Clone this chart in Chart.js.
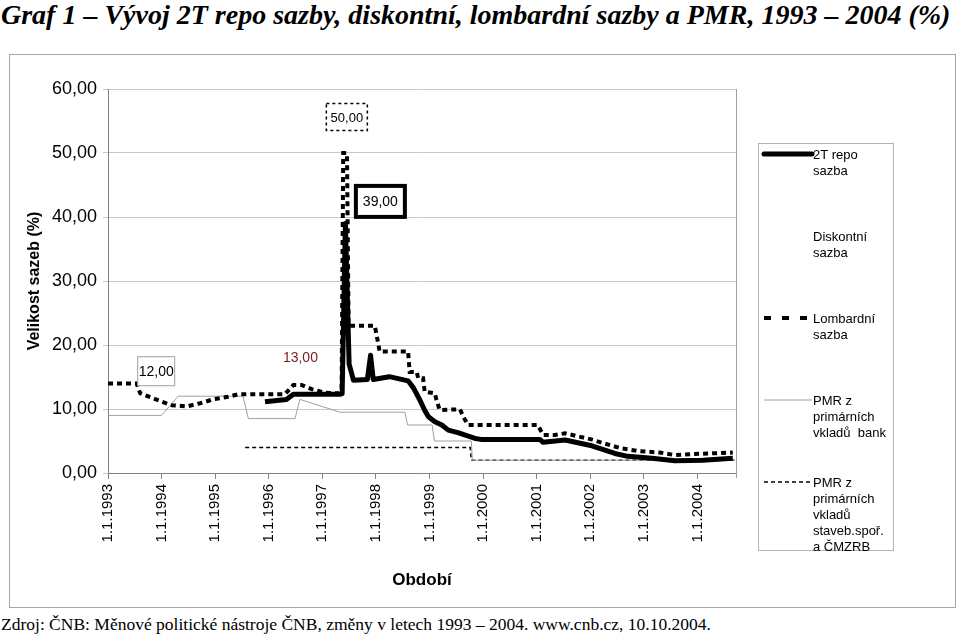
<!DOCTYPE html>
<html>
<head>
<meta charset="utf-8">
<script src="https://cdn.jsdelivr.net/npm/chart.js@4.4.0/dist/chart.umd.min.js"></script>
<style>
  body { margin: 0; width: 960px; height: 635px; position: relative; background: #fff; overflow: hidden; }
  #title { position: absolute; left: 1px; top: 1px; font: bold italic 28px "Liberation Serif"; line-height: 28px; white-space: nowrap; }
  #box { position: absolute; left: 9px; top: 54px; width: 945px; height: 552px; border: 1px solid #a6a6a6; }
  #source { position: absolute; left: 1px; top: 615px; font: 17.5px "Liberation Serif"; line-height: 18px; white-space: nowrap; }
</style>
</head>
<body>
<div id="title">Graf 1 – Vývoj 2T repo sazby, diskontní, lombardní sazby a PMR, 1993 – 2004 (%)</div>
<div id="box"><canvas id="graph" width="945" height="552" style="width:945px;height:552px"></canvas></div>
<div id="source">Zdroj: ČNB: Měnové politické nástroje ČNB, změny v letech 1993 – 2004. www.cnb.cz, 10.10.2004.</div>
<script>
// values (x = year as decimal)
const repoYears = [1995.93, 1996.33, 1996.46, 1997.33, 1997.37, 1997.43, 1997.50, 1997.58, 1997.84, 1997.90,
  1997.95, 1998.25, 1998.60, 1998.70, 1998.82, 1998.91, 1998.98, 1999.10, 1999.23, 1999.35,
  1999.53, 1999.85, 1999.96, 2001.06, 2001.12, 2001.53, 2002.03, 2002.46, 2002.70, 2002.93,
  2003.15, 2003.58, 2004.10, 2004.66];
const repoRates = [11.15, 11.5, 12.3, 12.3, 12.4, 39, 17, 14.5, 14.6, 18.4,
  14.6, 15.05, 14.4, 13.3, 11.4, 9.8, 8.8, 8.0, 7.5, 6.7,
  6.3, 5.4, 5.25, 5.25, 4.8, 5.15, 4.25, 3.05, 2.6, 2.45,
  2.3, 1.9, 2.0, 2.3];

const discountYears = [];
const discountRates = [];

const lombardYears = [1993.00, 1993.535, 1993.60, 1993.97, 1994.19, 1994.47, 1994.72, 1994.96, 1995.24, 1995.43,
  1996.30, 1996.46, 1996.61, 1996.80, 1997.05, 1997.30, 1997.36, 1997.39, 1997.46, 1997.49,
  1997.98, 1998.07, 1998.60, 1998.63, 1998.76, 1998.79, 1998.88, 1998.91, 1999.10, 1999.13,
  1999.19, 1999.57, 1999.63, 1999.72, 2001.02, 2001.12, 2001.34, 2001.53, 2002.02, 2002.27,
  2002.58, 2002.93, 2003.30, 2003.58, 2003.91, 2004.66];
const lombardRates = [14, 14, 12.45, 11.25, 10.6, 10.4, 10.9, 11.5, 11.9, 12.3,
  12.3, 13.75, 13.75, 13.1, 12.55, 12.45, 13, 50, 50, 23,
  23, 19, 19, 15.8, 15.8, 14.8, 14.8, 12.7, 12.45, 11.4,
  9.85, 9.95, 8.8, 7.5, 7.5, 5.95, 5.95, 6.2, 5.25, 4.6,
  3.85, 3.4, 3.2, 2.8, 2.95, 3.2];

const pmrBankYears = [1993.00, 1994.00, 1994.31, 1995.52, 1995.62, 1996.49, 1996.58, 1997.33, 1998.54, 1998.59,
  1999.05, 1999.09, 1999.78, 1999.80, 2004.70];
const pmrBankRates = [9, 9, 12, 12, 8.5, 8.5, 11.5, 9.5, 9.5, 7.5,
  7.5, 5, 5, 2, 2];

const pmrSavingsYears = [1995.56, 1999.76, 1999.78, 2004.70];
const pmrSavingsRates = [4, 4, 2, 2];

const seriesNames = [
  ["2T repo", "sazba"],
  ["Diskontní", "sazba"],
  ["Lombardní", "sazba"],
  ["PMR z", "primárních", "vkladů  bank"],
  ["PMR z", "primárních", "vkladů", "staveb.spoř.", "a ČMZRB"]
];

const firstYear = 1993;
const lastYear = 2004.72;

function points(xs, ys) {
  return xs.map((x, i) => ({ x: x, y: ys[i] }));
}

// boxed value labels next to the peaks
const callouts = [
  { text: "50,00", x: 1997.42, y: 50, dx: 2, dy: -36, w: 41, h: 27, style: "dotted" },
  { text: "39,00", x: 1997.43, y: 39, dx: 35, dy: -22, w: 49, h: 31, style: "thick" },
  { text: "12,00", x: 1994.31, y: 12, dx: -22, dy: -25, w: 37, h: 29, style: "thin" },
  { text: "13,00", x: 1996.46, y: 13.75, dx: 7, dy: -28, w: 0, h: 0, style: "none" }
];

const calloutPlugin = {
  id: "callouts",
  afterDatasetsDraw(chart) {
    const ctx = chart.ctx;
    const xs = chart.scales.x, ys = chart.scales.y;
    ctx.save();
    ctx.textAlign = "center";
    ctx.textBaseline = "middle";
    callouts.forEach((c) => {
      const cx = xs.getPixelForValue(c.x) + c.dx;
      const cy = ys.getPixelForValue(c.y) + c.dy;
      if (c.style !== "none") {
        ctx.fillStyle = "#fff";
        ctx.fillRect(cx - c.w / 2, cy - c.h / 2, c.w, c.h);
        ctx.strokeStyle = c.style === "thin" ? "#a0a0a0" : "#000";
        ctx.lineWidth = c.style === "thick" ? 4 : (c.style === "dotted" ? 1.5 : 1);
        ctx.setLineDash(c.style === "dotted" ? [3, 3] : []);
        ctx.strokeRect(cx - c.w / 2, cy - c.h / 2, c.w, c.h);
        ctx.setLineDash([]);
      }
      ctx.fillStyle = c.style === "none" ? "#7a1c1c" : "#000";
      ctx.font = (c.style === "dotted" ? "13px" : "14px") + ' "Liberation Sans"';
      ctx.fillText(c.text, cx, cy + 1);
    });
    ctx.restore();
  }
};

const legendPlugin = {
  id: "sideLegend",
  afterDraw(chart) {
    const ctx = chart.ctx, a = chart.chartArea;
    ctx.save();
    // right edge of the plot area
    ctx.strokeStyle = "#a0a0a0";
    ctx.lineWidth = 1;
    ctx.beginPath();
    ctx.moveTo(Math.round(a.right) + 0.5, a.top);
    ctx.lineTo(Math.round(a.right) + 0.5, a.bottom + 5);
    ctx.stroke();

    const left = a.right + 22, top = a.top + 54;
    ctx.strokeStyle = "#b4b4b4";
    ctx.strokeRect(Math.round(left) + 0.5, Math.round(top) + 0.5, 135, 407);

    ctx.font = '13px "Liberation Sans"';
    ctx.textBaseline = "middle";
    ctx.textAlign = "left";
    chart.data.datasets.forEach((ds, i) => {
      const y = top + 12 + i * 82;
      ctx.strokeStyle = ds.borderColor;
      ctx.lineWidth = ds.borderWidth;
      ctx.lineCap = ds.legendCap || "butt";
      ctx.setLineDash(ds.legendDash || []);
      ctx.beginPath();
      ctx.moveTo(left + 6, y - 1);
      ctx.lineTo(left + 54, y - 1);
      ctx.stroke();
      ctx.setLineDash([]);
      ctx.fillStyle = "#000";
      seriesNames[i].forEach((line, j) => {
        ctx.fillText(line, left + 55, y + j * 16);
      });
    });
    ctx.restore();
  }
};

const ctx = document.getElementById("graph").getContext("2d");
new Chart(ctx, {
  type: "line",
  data: {
    datasets: [
      {
        label: "2T repo sazba",
        data: points(repoYears, repoRates),
        borderColor: "#000",
        borderWidth: 5,
        borderJoinStyle: "round",
        legendCap: "round"
      },
      {
        label: "Diskontní sazba",
        data: points(discountYears, discountRates),
        borderColor: "rgba(0,0,0,0)",
        borderWidth: 0
      },
      {
        label: "Lombardní sazba",
        data: points(lombardYears, lombardRates),
        borderColor: "#000",
        borderWidth: 4,
        borderDash: [5, 4],
        legendDash: [7, 11]
      },
      {
        label: "PMR z primárních vkladů bank",
        data: points(pmrBankYears, pmrBankRates),
        borderColor: "#a0a0a0",
        borderWidth: 1
      },
      {
        label: "PMR z primárních vkladů staveb.spoř. a ČMZRB",
        data: points(pmrSavingsYears, pmrSavingsRates),
        borderColor: "#000",
        borderWidth: 1.5,
        borderDash: [4, 3],
        legendDash: [4, 3]
      }
    ]
  },
  options: {
    responsive: false,
    animation: false,
    elements: { point: { radius: 0 }, line: { tension: 0, fill: false } },
    layout: { padding: { top: 34, right: 219, bottom: 14, left: 0 } },
    plugins: { legend: { display: false }, tooltip: { enabled: false } },
    scales: {
      x: {
        type: "linear",
        min: firstYear,
        max: lastYear,
        afterFit: (scale) => { scale.height = 120; },
        grid: { drawOnChartArea: false, drawTicks: true, tickLength: 6, color: "#808080" },
        border: { display: true, color: "#808080" },
        ticks: {
          stepSize: 1,
          includeBounds: false,
          autoSkip: false,
          minRotation: 90,
          maxRotation: 90,
          padding: 5,
          color: "#000",
          font: { family: "Liberation Sans", size: 15 },
          callback: (v) => "1.1." + Math.round(v)
        },
        title: {
          display: true,
          text: "Období",
          color: "#000",
          font: { family: "Liberation Sans", size: 17, weight: "bold" },
          padding: { top: 0, bottom: 2 }
        }
      },
      y: {
        min: 0,
        max: 60,
        afterFit: (scale) => { scale.width = 98; },
        grid: { color: "#c8c8c8", tickLength: 5 },
        border: { display: true, color: "#808080" },
        ticks: {
          stepSize: 10,
          padding: 6,
          color: "#000",
          font: { family: "Liberation Sans", size: 18 },
          callback: (v) => v.toFixed(2).replace(".", ",")
        },
        title: {
          display: true,
          text: "Velikost sazeb (%)",
          color: "#000",
          font: { family: "Liberation Sans", size: 16, weight: "bold" },
          padding: { top: 15, bottom: 0 }
        }
      }
    }
  },
  plugins: [calloutPlugin, legendPlugin]
});
</script>
</body>
</html>
